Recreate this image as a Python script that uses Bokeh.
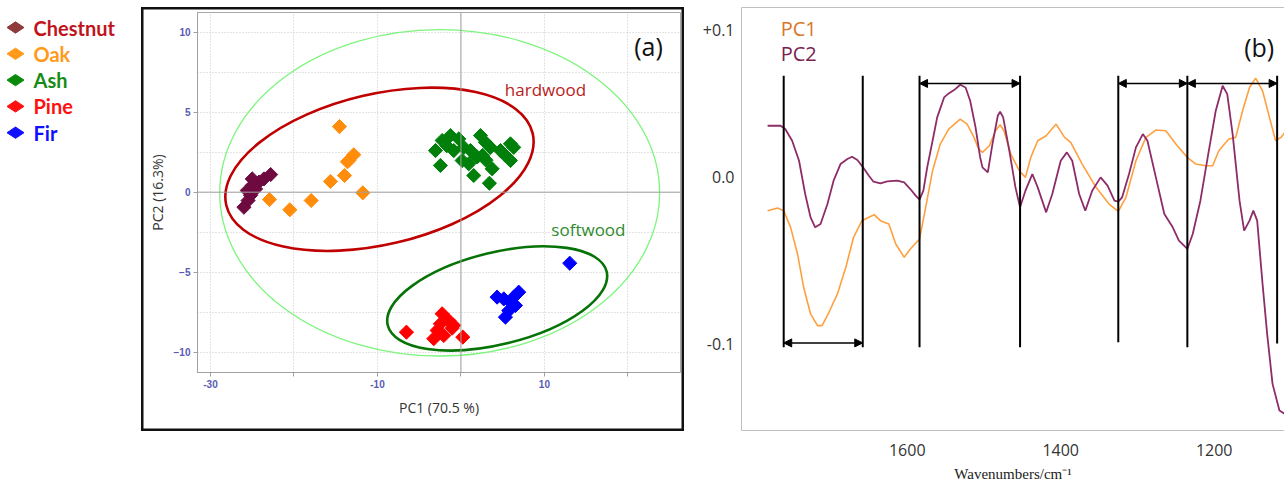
import numpy as np
from bokeh.plotting import figure
from bokeh.models import (Range1d, FixedTicker, Span, Label, Arrow, Title,
                          NormalHead, LinearAxis, ColumnDataSource)
from bokeh.layouts import row
from bokeh.embed import file_html
from bokeh.resources import INLINE
from bokeh.core.properties import value

# ---------------- data: score plot (a) ----------------
species = ["Chestnut", "Oak", "Ash", "Pine", "Fir"]
legend_marker_colors = ["#8e3b3b", "#ff9a1a", "#0a8a0a", "#ff1010", "#1010ff"]
legend_text_colors = ["#c0141c", "#ff9a1a", "#168c16", "#ff1010", "#1010ff"]
score_colors = ["#6e0a40", "#ff8c0a", "#00800a", "#ff0000", "#0000ff"]

chestnut_pc1 = [-26.0, -25.5, -25.2, -25.6, -25.0, -25.0, -24.2, -23.6, -22.8, -24.6]
chestnut_pc2 = [-0.94, -0.52, -0.2, 0.1, 0.42, 0.83, 0.63, 0.83, 1.1, 0.2]
oak_pc1 = [-14.55, -12.84, -13.4, -13.6, -15.63, -13.95, -11.76, -22.93, -20.5, -17.94]
oak_pc2 = [4.1, 2.34, 2.0, 1.9, 0.67, 1.04, -0.04, -0.46, -1.1, -0.52]
ash_pc1 = [-3.05, -2.25, -1.26, -0.26, 0.34, 1.14, 1.94, 2.34, 2.93, 3.53, 0.14, 0.93,
           3.74, -2.46, 1.53, 3.41, 5.93, 6.32, 5.33, 5.93, 4.73, -0.86, 2.6, -1.7, 3.0]
ash_pc2 = [2.6, 3.23, 3.54, 3.33, 2.8, 2.6, 2.2, 3.54, 3.12, 2.8, 1.98, 1.77,
           1.46, 1.67, 1.04, 0.56, 3.02, 2.8, 2.29, 1.98, 2.6, 2.6, 2.3, 2.9, 2.0]
pine_pc1 = [-6.53, -2.25, -1.46, -0.86, -2.85, -3.26, -2.06, 0.22, -1.06, -2.46]
pine_pc2 = [-8.75, -7.6, -8.02, -8.33, -8.64, -9.16, -8.96, -9.06, -8.5, -8.23]
fir_pc1 = [13.03, 4.33, 5.13, 5.93, 6.92, 6.32, 6.53, 5.33, 5.73]
fir_pc2 = [-4.44, -6.56, -6.67, -6.87, -6.25, -6.56, -7.08, -7.81, -7.4]

score_x = [chestnut_pc1, oak_pc1, ash_pc1, pine_pc1, fir_pc1]
score_y = [chestnut_pc2, oak_pc2, ash_pc2, pine_pc2, fir_pc2]

ellipse_cx = [-2.55, -9.76, 4.34]
ellipse_cy = [-0.04, 1.43, -6.64]
ellipse_w = [52.7, 37.7, 27.0]
ellipse_h = [20.4, 9.41, 5.74]
ellipse_angle_deg = [0.0, 13.2, 13.8]
ellipse_colors = ["#7cf57c", "#c00000", "#067306"]
ellipse_widths = [1.3, 2.6, 2.6]

x_ticks_a = [-30, -20, -10, 0, 10, 20]
x_labels_a = {-30: "-30", -20: "", -10: "-10", 0: "", 10: "10", 20: ""}
y_ticks_a = [-10, -5, 0, 5, 10]
y_grid_minor_a = [-7.5, -2.5, 2.5, 7.5]

# ---------------- data: loadings plot (b) ----------------
pc1_wn = [1782, 1769, 1761, 1752, 1743, 1735, 1726, 1717, 1711, 1702, 1691, 1680, 1670, 1659,
          1650, 1643, 1635, 1624, 1615, 1604, 1596, 1584, 1576, 1567, 1557, 1546, 1531, 1522,
          1513, 1507, 1502, 1493, 1485, 1479, 1474, 1465, 1454, 1446, 1439, 1430, 1419, 1406,
          1395, 1387, 1372, 1354, 1337, 1325, 1315, 1302, 1289, 1276, 1263, 1250, 1235, 1224,
          1211, 1202, 1194, 1181, 1172, 1163, 1154, 1146, 1137, 1128, 1120, 1113, 1108, 1100]
pc1_load = [-0.020, -0.0184, -0.020, -0.030, -0.046, -0.066, -0.082, -0.089, -0.089, -0.081,
            -0.070, -0.054, -0.036, -0.026, -0.024, -0.0224, -0.026, -0.028, -0.040, -0.048,
            -0.043, -0.037, -0.018, 0.004, 0.020, 0.029, 0.035, 0.032, 0.024, 0.017,
            0.015, 0.019, 0.028, 0.0316, 0.028, 0.014, 0.004, 0.000, 0.012, 0.022,
            0.025, 0.032, 0.024, 0.021, 0.008, -0.006, -0.016, -0.0204, -0.012, 0.010,
            0.024, 0.0284, 0.028, 0.020, 0.012, 0.008, 0.007, 0.007, 0.016, 0.023,
            0.024, 0.040, 0.054, 0.0596, 0.052, 0.036, 0.022, 0.024, 0.027, 0.030]
pc2_wn = [1782, 1765, 1759, 1750, 1741, 1733, 1726, 1720, 1713, 1704, 1696, 1687, 1678, 1672,
          1665, 1657, 1650, 1644, 1635, 1626, 1613, 1604, 1596, 1589, 1584, 1579, 1574, 1567,
          1561, 1552, 1546, 1539, 1531, 1524, 1518, 1511, 1505, 1502, 1495, 1489, 1482, 1479,
          1475, 1467, 1459, 1453, 1446, 1437, 1430, 1419, 1411, 1400, 1392, 1385, 1376, 1368,
          1359, 1348, 1339, 1330, 1325, 1320, 1311, 1302, 1293, 1287, 1276, 1265, 1254, 1246,
          1235, 1228, 1218, 1207, 1198, 1189, 1183, 1176, 1167, 1161, 1154, 1149, 1144, 1137,
          1131, 1124, 1115, 1108, 1100]
pc2_load = [0.031, 0.031, 0.029, 0.022, 0.010, -0.010, -0.024, -0.030, -0.028, -0.016,
            -0.002, 0.008, 0.011, 0.0124, 0.0104, 0.0056, 0.001, -0.0026, -0.0036, -0.0024,
            -0.002, -0.003, -0.007, -0.011, -0.0134, -0.008, 0.006, 0.022, 0.036, 0.048,
            0.0504, 0.0524, 0.0556, 0.054, 0.046, 0.030, 0.012, 0.006, 0.003, 0.020,
            0.037, 0.0394, 0.036, 0.016, -0.006, -0.018, -0.008, 0.002, -0.006, -0.021,
            -0.010, 0.010, 0.015, 0.010, -0.010, -0.020, -0.008, 0.000, -0.005, -0.014,
            -0.0146, -0.012, 0.002, 0.018, 0.026, 0.022, 0.000, -0.022, -0.030, -0.038,
            -0.043, -0.034, -0.014, 0.016, 0.040, 0.055, 0.050, 0.026, -0.014, -0.032,
            -0.026, -0.020, -0.026, -0.064, -0.094, -0.124, -0.140, -0.142, -0.143]

band_lines_wn = [1761, 1658, 1584, 1453, 1325, 1235, 1118]
band_lines_top = [0.061, 0.061, 0.061, 0.061, 0.061, 0.061, 0.061]
band_lines_bottom = [-0.102, -0.102, -0.102, -0.102, -0.099, -0.102, -0.0998]
arrow_start_wn = [1761, 1584, 1325, 1235]
arrow_end_wn = [1658, 1453, 1235, 1118]
arrow_level = [-0.0994, 0.0564, 0.0564, 0.0564]

x_ticks_b = [1600, 1400, 1200]
y_ticks_b = [0.0885, 0.0, -0.1]
y_labels_b = {0.0885: "+0.1", 0: "0.0", -0.1: "-0.1"}

SANS = "Open Sans"

# ---------------- legend figure ----------------
leg = figure(width=141, height=487, x_range=Range1d(0, 141), y_range=Range1d(487, 0),
             x_axis_type=None, y_axis_type=None, toolbar_location=None,
             output_backend="svg", min_border=0, frame_align=False)
leg.grid.visible = False
leg.outline_line_color = None
leg_y = [27 + 26.3 * i for i in range(len(species))]
lsrc = ColumnDataSource(dict(x=[15] * 5, tx=[33] * 5, y=leg_y, name=species,
                             mc=legend_marker_colors, tc=legend_text_colors))
leg.scatter("x", "y", source=lsrc, marker="diamond", angle=np.pi / 2, size=17,
            fill_color="mc", line_color="mc")
leg.text("tx", "y", text="name", source=lsrc, text_color="tc", text_font=value("Lato"),
         text_font_style="bold", text_font_size="20px", text_baseline="middle")

# ---------------- score plot (a) ----------------
pa = figure(width=543, height=424, x_range=Range1d(-31.56, 26.3), y_range=Range1d(-11.27, 11.23),
            toolbar_location=None, output_backend="svg", frame_align=False,
            min_border_left=56, min_border_right=4, min_border_top=5, min_border_bottom=59,
            margin=(7, 0, 0, 0),
            styles={"box-shadow": "inset 0 0 0 2.5px #111111"})
pa.border_fill_color = None
pa.outline_line_color = "#a8a8a8"
pa.xaxis.ticker = FixedTicker(ticks=x_ticks_a)
pa.xaxis.major_label_overrides = x_labels_a
pa.yaxis.ticker = FixedTicker(ticks=y_ticks_a, minor_ticks=y_grid_minor_a)
for ax in (pa.xaxis[0], pa.yaxis[0]):
    ax.axis_line_color = "#a0a0a0"
    ax.major_tick_line_color = "#a0a0a0"
    ax.major_tick_out = 4
    ax.major_tick_in = 0
    ax.minor_tick_out = 0
    ax.minor_tick_in = 0
    ax.major_label_text_font = "Liberation Sans"
    ax.major_label_text_font_style = "bold"
    ax.major_label_text_font_size = "10px"
    ax.major_label_text_color = "#5a5ab4"
    ax.major_label_standoff = 3
pa.xgrid.grid_line_color = "#c8c8c8"
pa.xgrid.grid_line_dash = "1 2"
pa.ygrid.grid_line_color = "#c8c8c8"
pa.ygrid.grid_line_dash = "1 2"
pa.ygrid.minor_grid_line_color = "#c8c8c8"
pa.ygrid.minor_grid_line_dash = "1 2"
pa.add_layout(Span(location=0, dimension="height", line_color="#a0a0a0", line_width=1))
pa.add_layout(Span(location=0, dimension="width", line_color="#a0a0a0", line_width=1))

pa.ellipse(x=ellipse_cx, y=ellipse_cy, width=ellipse_w, height=ellipse_h,
           angle=[np.deg2rad(a) for a in ellipse_angle_deg], fill_color=None,
           line_color=ellipse_colors, line_width=ellipse_widths)
for xs, ys, c in zip(score_x, score_y, score_colors):
    pa.scatter(xs, ys, marker="square", angle=np.pi / 4, size=10, fill_color=c, line_color=c)

pa.add_layout(Label(x=22.46, y=9.11, text="(a)", text_font=SANS, text_font_size="25px",
                    text_color="#111111", text_align="center", text_baseline="middle"))
pa.add_layout(Label(x=10.12, y=6.41, text="hardwood", text_font=SANS, text_font_size="17px",
                    text_color="#b81c1c", text_align="center", text_baseline="middle"))
pa.add_layout(Label(x=15.27, y=-2.36, text="softwood", text_font=SANS, text_font_size="17px",
                    text_color="#2e8b2e", text_align="center", text_baseline="middle"))
pa.add_layout(Title(text="PC2 (16.3%)", align="center", offset=25, standoff=7,
                    text_font=SANS, text_font_size="14px", text_font_style="normal",
                    text_color="#333333"), "left")
pa.add_layout(Title(text="PC1 (70.5 %)", align="center", offset=13.5, standoff=10,
                    text_font=SANS, text_font_size="14px", text_font_style="normal",
                    text_color="#333333"), "below")

# ---------------- loadings plot (b) ----------------
pb = figure(width=600, height=487, x_range=Range1d(1816, 1108.4), y_range=Range1d(-0.152, 0.102),
            toolbar_location=None, output_backend="svg", frame_align=False,
            min_border_left=57, min_border_right=0, min_border_top=7, min_border_bottom=57)
pb.outline_line_color = None
pb.grid.visible = False
pb.xaxis.ticker = FixedTicker(ticks=x_ticks_b)
pb.yaxis.ticker = FixedTicker(ticks=y_ticks_b)
pb.yaxis.major_label_overrides = y_labels_b
for ax in (pb.xaxis[0], pb.yaxis[0]):
    ax.axis_line_color = "#c0c0c0"
    ax.major_tick_out = 0
    ax.major_tick_in = 0
    ax.minor_tick_out = 0
    ax.minor_tick_in = 0
    ax.major_label_text_font = SANS
    ax.major_label_text_font_size = "16px"
    ax.major_label_text_color = "#333333"
pb.xaxis.major_label_standoff = 13
pb.yaxis.major_label_standoff = 7
top_axis = LinearAxis(ticker=FixedTicker(ticks=[]), axis_line_color="#c0c0c0",
                      major_tick_out=0, major_tick_in=0, minor_tick_out=0, minor_tick_in=0,
                      major_label_standoff=0)
pb.add_layout(top_axis, "above")

pb.line(pc1_wn, pc1_load, line_color="#ffa040", line_width=1.6)
pb.line(pc2_wn, pc2_load, line_color="#8e2c68", line_width=1.8)
pb.segment(x0=band_lines_wn, y0=band_lines_bottom, x1=band_lines_wn, y1=band_lines_top,
           line_color="black", line_width=2)
for xs, xe, yl in zip(arrow_start_wn, arrow_end_wn, arrow_level):
    pb.add_layout(Arrow(x_start=xs, y_start=yl, x_end=xe, y_end=yl, line_width=1.5,
                        line_color="black",
                        start=NormalHead(size=8, fill_color="black", line_color="black"),
                        end=NormalHead(size=8, fill_color="black", line_color="black")))

pb.add_layout(Label(x=1765, y=0.0892, text="PC1", text_font=SANS, text_font_size="20px",
                    text_color="#d9762a", text_baseline="middle"))
pb.add_layout(Label(x=1765, y=0.0742, text="PC2", text_font=SANS, text_font_size="20px",
                    text_color="#7a1e4e", text_baseline="middle"))
pb.add_layout(Label(x=1141.4, y=0.0784, text="(b)", text_font=SANS, text_font_size="25px",
                    text_color="#111111", text_align="center", text_baseline="middle"))
pb.add_layout(Title(text="Wavenumbers/cm\u207b\u00b9", align="center", offset=51, standoff=10,
                    text_font="Liberation Serif", text_font_size="15px",
                    text_font_style="normal", text_color="#222222"), "below")

layout = row(leg, pa, pb, spacing=0)
open("out.html", "w").write(file_html(layout, INLINE))
